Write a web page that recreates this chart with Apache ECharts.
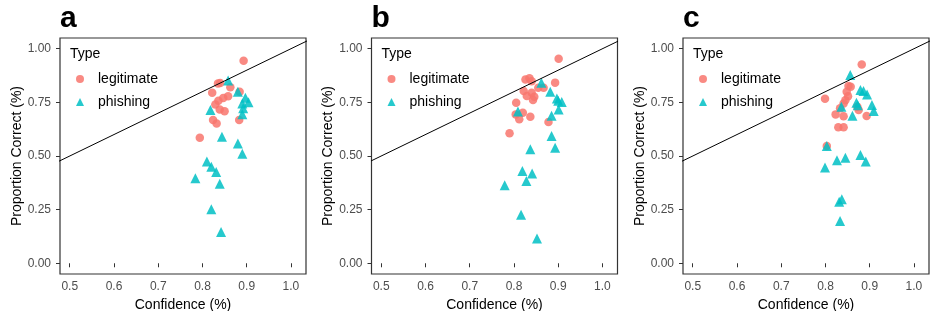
<!DOCTYPE html>
<html><head><meta charset="utf-8">
<script src="https://cdn.jsdelivr.net/npm/echarts@6/dist/echarts.min.js"></script>
<style>html,body{margin:0;padding:0;background:#fff}#c{width:931px;height:311px}</style>
</head><body><div id="c"></div>
<script>
// ---- data (Confidence, Proportion Correct) ----
const panelLabels = ['a', 'b', 'c'];
const typeNames = ['legitimate', 'phishing'];
const xTicks = [0.5, 0.6, 0.7, 0.8, 0.9, 1.0];
const yTicks = [0.00, 0.25, 0.50, 0.75, 1.00];
const refLine = [0, 1.2]; // y = x reference line

const legitA = [[0.893,0.944],[0.840,0.840],[0.835,0.838],[0.822,0.795],[0.863,0.820],[0.884,0.800],
  [0.858,0.778],[0.847,0.770],[0.836,0.757],[0.829,0.740],[0.839,0.717],[0.850,0.709],
  [0.824,0.668],[0.832,0.652],[0.883,0.668],[0.794,0.585]];
const phishA = [[0.858,0.852],[0.880,0.800],[0.897,0.772],[0.904,0.750],[0.890,0.745],[0.892,0.722],
  [0.890,0.695],[0.818,0.714],[0.844,0.590],[0.880,0.558],[0.890,0.511],[0.810,0.474],
  [0.820,0.450],[0.831,0.425],[0.784,0.396],[0.839,0.371],[0.820,0.252],[0.842,0.146]];

const legitB = [[0.901,0.953],[0.826,0.857],[0.835,0.862],[0.840,0.848],[0.893,0.842],[0.867,0.818],
  [0.855,0.818],[0.822,0.803],[0.840,0.795],[0.829,0.780],[0.846,0.776],[0.843,0.761],
  [0.805,0.748],[0.804,0.694],[0.820,0.702],[0.812,0.671],[0.837,0.683],[0.878,0.658],[0.790,0.606]];
const phishB = [[0.862,0.842],[0.882,0.800],[0.897,0.768],[0.908,0.752],[0.900,0.757],[0.901,0.717],
  [0.885,0.688],[0.809,0.707],[0.885,0.593],[0.893,0.539],[0.837,0.531],[0.819,0.430],
  [0.841,0.418],[0.828,0.383],[0.779,0.364],[0.816,0.226],[0.852,0.115]];

const legitC = [[0.882,0.927],[0.852,0.826],[0.857,0.823],[0.848,0.800],[0.851,0.778],[0.845,0.760],
  [0.841,0.745],[0.799,0.767],[0.833,0.722],[0.872,0.730],[0.875,0.714],[0.823,0.694],
  [0.841,0.685],[0.893,0.686],[0.829,0.634],[0.841,0.634],[0.803,0.547]];
const phishC = [[0.856,0.877],[0.879,0.808],[0.886,0.803],[0.894,0.787],[0.870,0.748],[0.873,0.736],
  [0.905,0.738],[0.909,0.710],[0.836,0.730],[0.861,0.688],[0.803,0.547],[0.799,0.446],
  [0.826,0.480],[0.845,0.492],[0.879,0.505],[0.891,0.474],[0.831,0.287],[0.837,0.298],[0.833,0.197]];

const panels = [[legitA, phishA], [legitB, phishB], [legitC, phishC]];

// ---- layout / style ----
const FONT = "'Liberation Sans', Arial, sans-serif";
const colors = ['#F8766D', '#00BFC4'];
const symbols = ['circle', 'triangle'];
const symSizes = [8.5, 10];
const panelLeft = [60, 371.5, 683];
const gridTop = 38, gridW = 246, gridH = 236;

const chart = echarts.init(document.getElementById('c'), null, {renderer: 'canvas'});
const option = {
  animation: false,
  backgroundColor: '#fff',
  grid: [], xAxis: [], yAxis: [], series: [], legend: [], graphic: []
};

panels.forEach((p, i) => {
  const L = panelLeft[i];
  option.grid.push({left: L, top: gridTop, width: gridW, height: gridH,
    outerBoundsMode: 'none', containLabel: false,
    show: true, borderColor: '#333', borderWidth: 1.2, backgroundColor: 'transparent'});
  option.xAxis.push({
    gridIndex: i, type: 'value', min: 0.478, max: 1.034,
    name: 'Confidence (%)', nameLocation: 'middle', nameGap: 22,
    nameTextStyle: {fontFamily: FONT, fontSize: 14, color: '#000'},
    axisLine: {show: false},
    splitLine: {show: false},
    axisTick: {show: true, length: 4, lineStyle: {color: '#333'}, customValues: xTicks},
    axisLabel: {show: true, margin: 7, fontFamily: FONT, fontSize: 12, color: '#4D4D4D',
      customValues: xTicks, formatter: v => v.toFixed(1)}
  });
  option.yAxis.push({
    gridIndex: i, type: 'value', min: -0.05, max: 1.05,
    name: 'Proportion Correct (%)', nameLocation: 'middle', nameGap: 35,
    nameTextStyle: {fontFamily: FONT, fontSize: 14, color: '#000'},
    axisLine: {show: false},
    splitLine: {show: false},
    axisTick: {show: true, length: 4, lineStyle: {color: '#333'}, customValues: yTicks},
    axisLabel: {show: true, margin: 9, fontFamily: FONT, fontSize: 12, color: '#4D4D4D',
      customValues: yTicks, formatter: v => v.toFixed(2)}
  });
  p.forEach((d, k) => {
    option.series.push({
      type: 'scatter', name: typeNames[k], xAxisIndex: i, yAxisIndex: i,
      data: d, symbol: symbols[k], symbolSize: symSizes[k],
      itemStyle: {color: colors[k], opacity: 0.85}, z: 2
    });
  });
  option.series.push({
    type: 'line', xAxisIndex: i, yAxisIndex: i, data: refLine.map(v => [v, v]),
    symbol: 'none', clip: true, silent: true, z: 3,
    lineStyle: {color: '#000', width: 1}
  });
  option.legend.push({
    data: typeNames.map((n, k) => ({name: n, icon: symbols[k]})),
    orient: 'vertical', left: L + 16, top: 72, padding: 0,
    itemWidth: 8, itemHeight: 8, itemGap: 9,
    selectedMode: false,
    textStyle: {fontFamily: FONT, fontSize: 14, color: '#000', padding: [0, 0, 0, 9]}
  });
  option.graphic.push({
    type: 'text', left: L + 10, top: 47,
    style: {text: 'Type', font: '14px ' + FONT, fill: '#000'}
  });
  option.graphic.push({
    type: 'text', left: L, top: 4,
    style: {text: panelLabels[i], font: 'bold 30px ' + FONT, fill: '#000'}
  });
});

chart.setOption(option);
</script>
</body></html>
